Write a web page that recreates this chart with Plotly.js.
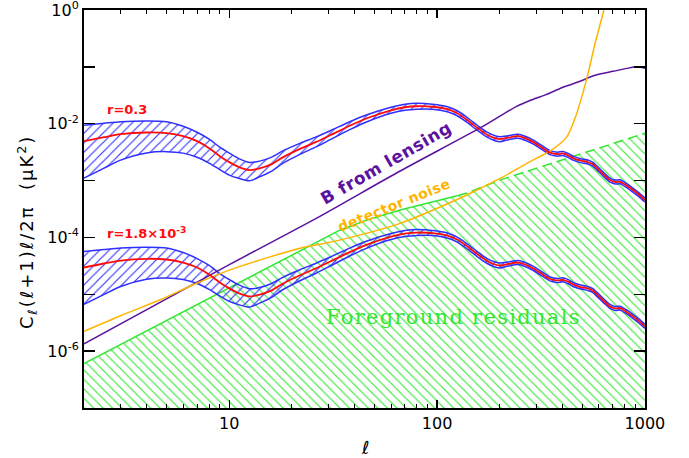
<!DOCTYPE html>
<html><head><meta charset="utf-8">
<script src="https://cdn.plot.ly/plotly-3.0.1.min.js"></script>
<style>html,body{margin:0;padding:0;background:#fff}</style>
</head><body><div id="chart" style="width:689px;height:458px"></div>
<script>
// multipole grid for the primordial B-mode curves
const ell = [2,2.5,3,4,5,6,7,8,9,10,11,12.5,14,16,18,22,26,30.6,38,46,60,70,80,95,112,125,140,157,174,190,201,220,245,265,289,320,349,380,403,430,451,490,526,560,588,630,679,720,758,810,875,940,1000];

// r = 0.3 : central curve and cosmic-variance band
const bR03 = [4.93e-3,5.80e-3,6.54e-3,7.01e-3,6.81e-3,6.03e-3,4.93e-3,3.72e-3,2.69e-3,2.11e-3,1.76e-3,1.53e-3,1.64e-3,1.95e-3,2.53e-3,3.64e-3,4.74e-3,6.28e-3,9.22e-3,1.249e-2,1.725e-2,1.948e-2,2.03e-2,1.99e-2,1.80e-2,1.53e-2,1.152e-2,8.34e-3,6.41e-3,5.57e-3,5.35e-3,5.68e-3,6.03e-3,5.57e-3,4.79e-3,3.79e-3,3.10e-3,2.92e-3,3.00e-3,2.75e-3,2.48e-3,2.24e-3,2.14e-3,1.95e-3,1.66e-3,1.30e-3,1.02e-3,9.41e-4,9.53e-4,8.34e-4,6.81e-4,5.57e-4,4.55e-4];
const bR03Up = [9.41e-3,1.02e-2,1.084e-2,1.12e-2,1.084e-2,9.04e-3,7.09e-3,5.35e-3,3.87e-3,3.04e-3,2.48e-3,2.09e-3,2.20e-3,2.58e-3,3.29e-3,4.55e-3,5.80e-3,7.54e-3,1.084e-2,1.438e-2,1.948e-2,2.20e-2,2.29e-2,2.20e-2,1.99e-2,1.69e-2,1.274e-2,9.22e-3,7.09e-3,6.16e-3,5.91e-3,6.16e-3,6.54e-3,6.03e-3,5.20e-3,4.11e-3,3.36e-3,3.16e-3,3.25e-3,2.98e-3,2.69e-3,2.43e-3,2.32e-3,2.11e-3,1.80e-3,1.41e-3,1.106e-3,1.02e-3,1.03e-3,9.04e-4,7.39e-4,6.03e-4,4.93e-4];
const bR03Lo = [1.106e-3,1.66e-3,2.29e-3,3.07e-3,3.23e-3,3.04e-3,2.58e-3,2.03e-3,1.56e-3,1.249e-3,1.106e-3,9.92e-4,1.166e-3,1.468e-3,1.99e-3,2.92e-3,3.87e-3,5.24e-3,7.85e-3,1.084e-2,1.53e-2,1.725e-2,1.80e-2,1.80e-2,1.624e-2,1.381e-2,1.041e-2,7.54e-3,5.80e-3,5.03e-3,4.83e-3,5.24e-3,5.57e-3,5.13e-3,4.42e-3,3.50e-3,2.86e-3,2.69e-3,2.77e-3,2.53e-3,2.29e-3,2.07e-3,1.97e-3,1.80e-3,1.53e-3,1.199e-3,9.41e-4,8.68e-4,8.79e-4,7.69e-4,6.28e-4,5.13e-4,4.20e-4];

// r = 1.8e-3 : central curve and band
const bR18 = [2.96e-5,3.48e-5,3.92e-5,4.21e-5,4.09e-5,3.62e-5,2.96e-5,2.23e-5,1.61e-5,1.27e-5,1.06e-5,9.18e-6,9.84e-6,1.17e-5,1.52e-5,2.18e-5,2.84e-5,3.77e-5,5.53e-5,7.49e-5,1.035e-4,1.169e-4,1.218e-4,1.194e-4,1.08e-4,9.18e-5,6.91e-5,5.00e-5,3.85e-5,3.34e-5,3.21e-5,3.41e-5,3.62e-5,3.34e-5,2.87e-5,2.27e-5,1.86e-5,1.75e-5,1.80e-5,1.65e-5,1.49e-5,1.34e-5,1.28e-5,1.17e-5,9.96e-6,7.80e-6,6.12e-6,5.65e-6,5.72e-6,5.00e-6,4.09e-6,3.34e-6,2.73e-6];
const bR18Up = [5.65e-5,6.12e-5,6.50e-5,6.72e-5,6.50e-5,5.42e-5,4.25e-5,3.21e-5,2.32e-5,1.82e-5,1.49e-5,1.25e-5,1.32e-5,1.55e-5,1.97e-5,2.73e-5,3.48e-5,4.52e-5,6.50e-5,8.63e-5,1.169e-4,1.32e-4,1.374e-4,1.32e-4,1.194e-4,1.014e-4,7.64e-5,5.53e-5,4.25e-5,3.70e-5,3.55e-5,3.70e-5,3.92e-5,3.62e-5,3.12e-5,2.47e-5,2.02e-5,1.90e-5,1.95e-5,1.79e-5,1.61e-5,1.46e-5,1.39e-5,1.27e-5,1.08e-5,8.46e-6,6.64e-6,6.12e-6,6.18e-6,5.42e-6,4.43e-6,3.62e-6,2.96e-6];
const bR18Lo = [6.64e-6,9.96e-6,1.374e-5,1.84e-5,1.94e-5,1.82e-5,1.55e-5,1.22e-5,9.36e-6,7.49e-6,6.64e-6,5.95e-6,7.00e-6,8.81e-6,1.19e-5,1.75e-5,2.32e-5,3.14e-5,4.71e-5,6.50e-5,9.18e-5,1.035e-4,1.08e-4,1.08e-4,9.74e-5,8.29e-5,6.25e-5,4.52e-5,3.48e-5,3.02e-5,2.90e-5,3.14e-5,3.34e-5,3.08e-5,2.65e-5,2.10e-5,1.72e-5,1.61e-5,1.66e-5,1.52e-5,1.374e-5,1.24e-5,1.18e-5,1.08e-5,9.18e-6,7.19e-6,5.65e-6,5.21e-6,5.27e-6,4.61e-6,3.77e-6,3.08e-6,2.52e-6];

// lensing B-modes
const lensL = [2,10,25.4,66.4,161,240,286,334,403,487,575,702,819,915,1000];
const lensV = [1.35e-6,3.32e-5,2.03e-4,1.474e-3,8.44e-3,2.0e-2,2.64e-2,3.25e-2,4.37e-2,5.57e-2,7.10e-2,8.34e-2,9.41e-2,0.100,9.41e-2];

// detector noise
const noiseL = [2,3,4.66,6.71,10.1,15.7,21.9,31.6,46,66.4,95.8,139,201,289,349,421,461,527,575,634,700];
const noiseV = [2.23e-6,4.20e-6,8.01e-6,1.47e-5,2.69e-5,4.55e-5,6.47e-5,8.44e-5,1.19e-4,1.77e-4,3.04e-4,5.57e-4,1.09e-3,2.29e-3,3.29e-3,5.87e-3,1.25e-2,6.55e-2,0.255,0.98,4];

// foreground residuals (upper boundary)
const fgL = [2,7.26,27.4,34.2,46,66.4,103.5,125,139,200,421,1000];
const fgV = [6.04e-7,7.06e-6,9.04e-5,1.354e-4,2.03e-4,3.04e-4,4.55e-4,5.43e-4,6.03e-4,1.02e-3,2.48e-3,6.81e-3];
const fgBase = [1e-8,1e-8];
const fgSolidEnd = 8; // solid part up to l=125, dashed beyond

const yTickVals = [1,1e-1,1e-2,1e-3,1e-4,1e-5,1e-6,1e-7];
const yTickText = ['10<sup>0</sup>',' ','10<sup>-2</sup>',' ','10<sup>-4</sup>',' ','10<sup>-6</sup>',' '];
const xTickVals = [10,100,1000];
const xTickText = ['10','100','1000'];
const xMinorVals = [3,4,5,6,7,8,9,20,30,40,50,60,70,80,90,200,300,400,500,600,700,800,900];

const BLUE = '#2f2fff', RED = '#ff0a0a', PURPLE = '#5a12a0', ORANGE = '#ffb400', GREEN = '#33e633';
const none = {width:0};
const sp = {shape:'spline', smoothing:0.7};

function patt(shape, col){
  return {shape:shape, fgcolor:col, bgcolor:'rgba(0,0,0,0)', size:6.7, solidity:0.17, fillmode:'replace'};
}

const traces = [
  {x:[fgL[0], fgL[fgL.length-1]], y:fgBase, mode:'lines', line:none, hoverinfo:'skip'},
  {x:fgL, y:fgV, mode:'lines', line:none, fill:'tonexty', fillcolor:'rgba(0,0,0,0)', fillpattern:patt('\\', GREEN)},
  {x:fgL.slice(0,fgSolidEnd), y:fgV.slice(0,fgSolidEnd), mode:'lines', line:{color:GREEN, width:1.5}},
  {x:fgL.slice(fgSolidEnd-1), y:fgV.slice(fgSolidEnd-1), mode:'lines', line:{color:GREEN, width:1.5, dash:'10px,5px'}},

  {x:ell, y:bR18Lo, mode:'lines', line:Object.assign({color:BLUE, width:1.5}, sp)},
  {x:ell, y:bR18Up, mode:'lines', line:Object.assign({color:BLUE, width:1.5}, sp), fill:'tonexty', fillcolor:'rgba(0,0,0,0)', fillpattern:patt('/', BLUE)},
  {x:ell, y:bR03Lo, mode:'lines', line:Object.assign({color:BLUE, width:1.5}, sp)},
  {x:ell, y:bR03Up, mode:'lines', line:Object.assign({color:BLUE, width:1.5}, sp), fill:'tonexty', fillcolor:'rgba(0,0,0,0)', fillpattern:patt('/', BLUE)},

  {x:lensL, y:lensV, mode:'lines', line:Object.assign({color:PURPLE, width:1.5}, sp)},
  {x:noiseL, y:noiseV, mode:'lines', line:Object.assign({color:ORANGE, width:1.5}, sp)},
  {x:ell, y:bR18, mode:'lines', line:Object.assign({color:RED, width:1.8}, sp)},
  {x:ell, y:bR03, mode:'lines', line:Object.assign({color:RED, width:1.8}, sp)}
];

const FONT = 'DejaVu Sans';
const layout = {
  width:689, height:458,
  margin:{l:84, r:44, t:10, b:50, pad:0},
  paper_bgcolor:'#fff', plot_bgcolor:'#fff',
  showlegend:false,
  font:{family:FONT, size:16, color:'#000'},
  xaxis:{type:'log', range:[Math.log10(2), 3.0003], showgrid:false, zeroline:false,
    showline:true, linecolor:'#000', linewidth:2, mirror:'ticks',
    ticks:'inside', ticklen:8, tickwidth:1.3, tickcolor:'#000',
    tickmode:'array', tickvals:xTickVals, ticktext:xTickText, ticklabeloverflow:'allow',
    tickfont:{family:FONT, size:16},
    minor:{tickmode:'array', tickvals:xMinorVals, ticks:'inside', ticklen:4, tickwidth:1, tickcolor:'#000', showgrid:false}},
  yaxis:{type:'log', range:[-7, 0.0003], showgrid:false, zeroline:false,
    showline:true, linecolor:'#000', linewidth:2, mirror:'ticks',
    ticks:'inside', ticklen:11, tickwidth:1.3, tickcolor:'#000',
    tickmode:'array', tickvals:yTickVals, ticktext:yTickText, ticklabeloverflow:'allow',
    tickfont:{family:FONT, size:16}},
  annotations:[
    {xref:'paper', yref:'paper', x:0.0374, y:0.751, xanchor:'left', yanchor:'middle', showarrow:false,
     text:'<b>r=0.3</b>', font:{family:FONT, size:13, color:RED}},
    {xref:'paper', yref:'paper', x:0.0374, y:0.4397, xanchor:'left', yanchor:'middle', showarrow:false,
     text:'<b>r=1.8×10<sup>-3</sup></b>', font:{family:FONT, size:13, color:RED}},
    {xref:'paper', yref:'paper', x:0.538, y:0.6156, xanchor:'center', yanchor:'middle', showarrow:false, textangle:-30,
     text:'<b><span style="letter-spacing:0.6px">B from lensing</span></b>', font:{family:FONT, size:17, color:PURPLE}},
    {xref:'paper', yref:'paper', x:0.5526, y:0.51, xanchor:'center', yanchor:'middle', showarrow:false, textangle:-22,
     text:'<b><span style="letter-spacing:0.4px">detector noise</span></b>', font:{family:FONT, size:14, color:ORANGE}},
    {xref:'paper', yref:'paper', x:0.6595, y:0.2286, xanchor:'center', yanchor:'middle', showarrow:false,
     text:'<span style="letter-spacing:1.3px">Foreground residuals</span>', font:{family:'DejaVu Serif', size:21, color:GREEN}},
    {xref:'paper', yref:'paper', x:-0.1016, y:0.442, xanchor:'center', yanchor:'middle', showarrow:false, textangle:-90,
     text:'<span style="letter-spacing:2px">C<sub>ℓ</sub>(ℓ+1)ℓ/2π  (μK<sup>2</sup>)</span>', font:{family:FONT, size:18, color:'#000'}},
    {xref:'paper', yref:'paper', x:0.5, y:-0.098, xanchor:'center', yanchor:'middle', showarrow:false,
     text:'<i>ℓ</i>', font:{family:FONT, size:18, color:'#000'}}
  ]
};

Plotly.newPlot('chart', traces, layout, {staticPlot:true, displayModeBar:false});
</script>
</body></html>
